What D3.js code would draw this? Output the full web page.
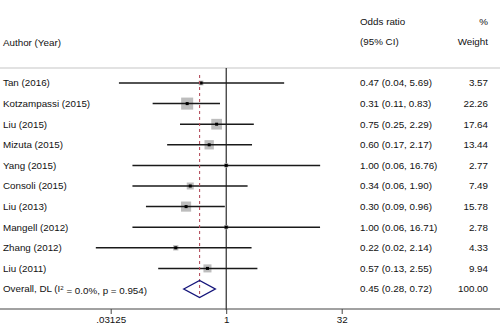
<!DOCTYPE html>
<html><head><meta charset="utf-8">
<script src="https://cdn.jsdelivr.net/npm/d3@7"></script>
<style>body{margin:0;background:#fff}svg{display:block}</style>
</head><body>
<script>
const studies = ["Tan (2016)","Kotzampassi (2015)","Liu (2015)","Mizuta (2015)","Yang (2015)","Consoli (2015)","Liu (2013)","Mangell (2012)","Zhang (2012)","Liu (2011)"];
const oddsRatio = [0.47,0.31,0.75,0.60,1.00,0.34,0.30,1.00,0.22,0.57];
const ciLow = [0.04,0.11,0.25,0.17,0.06,0.06,0.09,0.06,0.02,0.13];
const ciHigh = [5.69,0.83,2.29,2.17,16.76,1.90,0.96,16.71,2.14,2.55];
const weights = [3.57,22.26,17.64,13.44,2.77,7.49,15.78,2.78,4.33,9.94];
const overall = {or:0.45, lo:0.28, hi:0.72, w:100.00};
const tickValues = [0.03125, 1, 32];
const tickLabels = [".03125", "1", "32"];

const W = 500, H = 327;
const svg = d3.select("body").append("svg").attr("width", W).attr("height", H)
  .style("font-family", "'Liberation Sans', Arial, sans-serif");

const x = d3.scaleLog().base(2).domain([1/32, 32]).range([110.7, 341.7]);
const rows = studies.concat(["__overall"]);
const y = d3.scalePoint().domain(rows).range([83, 289]);
const fs = 9.8;

// header
const hdr = svg.append("g").style("font-size", fs + "px").attr("fill", "#111");
hdr.append("text").attr("x", 3).attr("y", 43).attr("dy", "0.35em").text("Author (Year)");
hdr.append("text").attr("x", 360).attr("y", 22).attr("dy", "0.35em").text("Odds ratio");
hdr.append("text").attr("x", 360).attr("y", 42).attr("dy", "0.35em").text("(95% CI)");
hdr.append("text").attr("x", 488).attr("y", 22).attr("dy", "0.35em").attr("text-anchor", "end").text("%");
hdr.append("text").attr("x", 488).attr("y", 42).attr("dy", "0.35em").attr("text-anchor", "end").text("Weight");
svg.append("line").attr("x1", 0).attr("x2", W).attr("y1", 68).attr("y2", 68)
  .attr("stroke", "#d9d9d9").attr("stroke-width", 1.5);

// null line
svg.append("line").attr("x1", x(1)).attr("x2", x(1)).attr("y1", 68).attr("y2", 310)
  .attr("stroke", "#000").attr("stroke-width", 1);

const data = studies.map((s, i) => ({s, or: oddsRatio[i], lo: ciLow[i], hi: ciHigh[i], w: weights[i]}));
const k = 2.55;

// squares
svg.append("g").selectAll("rect").data(data).join("rect")
  .attr("x", d => x(d.or) - k * Math.sqrt(d.w) / 2)
  .attr("y", d => y(d.s) - k * Math.sqrt(d.w) / 2)
  .attr("width", d => k * Math.sqrt(d.w))
  .attr("height", d => k * Math.sqrt(d.w))
  .attr("fill", "#bdbdbd");

// CI lines
svg.append("g").selectAll("line").data(data).join("line")
  .attr("x1", d => x(d.lo)).attr("x2", d => x(d.hi))
  .attr("y1", d => y(d.s)).attr("y2", d => y(d.s))
  .attr("stroke", "#1a1a1a").attr("stroke-width", 1.5);

// point markers
svg.append("g").selectAll("rect").data(data).join("rect")
  .attr("x", d => x(d.or) - 1.5).attr("y", d => y(d.s) - 1.5)
  .attr("width", 3).attr("height", 3).attr("fill", "#000");

// overall dashed line
svg.append("line").attr("x1", x(overall.or)).attr("x2", x(overall.or))
  .attr("y1", 75).attr("y2", 298)
  .attr("stroke", "#b5505e").attr("stroke-width", 1.1).attr("stroke-dasharray", "3,3");

// diamond
const yo = y("__overall");
svg.append("path")
  .attr("d", `M${x(overall.lo)},${yo} L${x(overall.or)},${yo - 8.5} L${x(overall.hi)},${yo} L${x(overall.or)},${yo + 8.5} Z`)
  .attr("fill", "none").attr("stroke", "#14147a").attr("stroke-width", 1.4);

// labels
const lab = svg.append("g").style("font-size", fs + "px").attr("fill", "#111");
lab.selectAll("text.a").data(data).join("text").attr("class", "a")
  .attr("x", 3).attr("y", d => y(d.s)).attr("dy", "0.35em").text(d => d.s);
lab.selectAll("text.c").data(data).join("text").attr("class", "c")
  .attr("x", 360).attr("y", d => y(d.s)).attr("dy", "0.35em")
  .text(d => `${d.or.toFixed(2)} (${d.lo.toFixed(2)}, ${d.hi.toFixed(2)})`);
lab.selectAll("text.w").data(data).join("text").attr("class", "w")
  .attr("x", 488).attr("y", d => y(d.s)).attr("dy", "0.35em").attr("text-anchor", "end")
  .text(d => d.w.toFixed(2));

const ot = lab.append("text").attr("x", 3).attr("y", yo).attr("dy", "0.35em");
ot.append("tspan").text("Overall, DL (I");
ot.append("tspan").attr("dy", "-0.4em").style("font-size", "6px").text("2");
ot.append("tspan").attr("dy", "0.4em").text(" = 0.0%, p = 0.954)");
lab.append("text").attr("x", 360).attr("y", yo).attr("dy", "0.35em")
  .text(`${overall.or.toFixed(2)} (${overall.lo.toFixed(2)}, ${overall.hi.toFixed(2)})`);
lab.append("text").attr("x", 488).attr("y", yo).attr("dy", "0.35em").attr("text-anchor", "end")
  .text(overall.w.toFixed(2));

// axis
svg.append("line").attr("x1", 0).attr("x2", W).attr("y1", 309).attr("y2", 309)
  .attr("stroke", "#444").attr("stroke-width", 1);
const axis = d3.axisBottom(x).tickValues(tickValues).tickSize(5).tickPadding(2)
  .tickFormat((d, i) => tickLabels[i]);
const ag = svg.append("g").attr("transform", "translate(0,309)").call(axis);
ag.select(".domain").remove();
ag.selectAll("line").attr("stroke", "#444");
ag.selectAll("text").style("font-size", fs + "px").style("font-family", "'Liberation Sans', Arial, sans-serif").attr("fill", "#111");
</script>
</body></html>
